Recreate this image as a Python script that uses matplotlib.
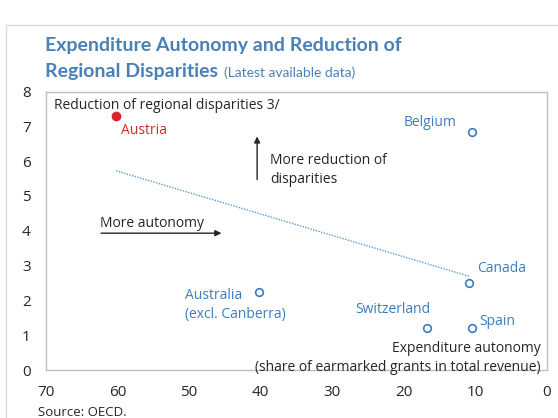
import numpy as np
import matplotlib.pyplot as plt
from matplotlib.lines import Line2D

# data
countries = ['Austria', 'Belgium', 'Canada', 'Australia\n(excl. Canberra)', 'Switzerland', 'Spain']
autonomy = [60.2, 10.5, 10.9, 40.2, 16.8, 10.5]      # share of earmarked grants in total revenue
disparity = [7.3, 6.85, 2.5, 2.25, 1.2, 1.2]          # reduction of regional disparities
xticks = [70, 60, 50, 40, 30, 20, 10, 0]
yticks = [0, 1, 2, 3, 4, 5, 6, 7, 8]

# label offsets (pixels) and alignment per country
offsets = [(5, -15), (-15, 9), (8, 14), (-74, 4), (4, 19), (7, 7)]
aligns = [('left', 'center'), ('right', 'center'), ('left', 'center'),
          ('left', 'top'), ('right', 'center'), ('left', 'center')]

blue = '#3A7DC0'
red = '#D9262E'
title_blue = '#4A80B8'
txt = '#262626'
body = 'Open Sans'

W, H = 558, 418
fig = plt.figure(figsize=(W / 100, H / 100), dpi=100)
ax = fig.add_axes([46 / W, 1 - 370 / H, 501 / W, 278.5 / H])

ax.set_xlim(70, 0)
ax.set_ylim(0, 8)
ax.set_xticks(xticks)
ax.set_yticks(yticks)
ax.tick_params(length=0, pad=11, labelsize=11, labelcolor=txt)
for lab in ax.get_xticklabels() + ax.get_yticklabels():
    lab.set_family(body)
for s in ax.spines.values():
    s.set_color('#BFBFBF')
    s.set_linewidth(1)

# trend line over the data
x = np.array(autonomy)
y = np.array(disparity)
k, b = np.polyfit(x, y, 1)
xs = np.array([x.max(), x.min() + 0.3])
ax.plot(xs, k * xs + b, linestyle=(0, (1, 1)), color='#5B9BD5', lw=1)

for i, c in enumerate(countries):
    col = red if c == 'Austria' else blue
    if c == 'Austria':
        ax.plot(x[i], y[i], 'o', color=red, ms=6)
    else:
        ax.plot(x[i], y[i], 'o', mfc='white', mec=blue, mew=1.2, ms=5.5)
    ax.annotate(c, (x[i], y[i]), xytext=offsets[i], textcoords='offset pixels',
                ha=aligns[i][0], va=aligns[i][1], color=col, fontsize=10,
                family=body, linespacing=1.35)

# direction arrows
ax.annotate('', xy=(40.5, 6.79), xytext=(40.5, 5.39),
            arrowprops=dict(arrowstyle='-|>', color=txt, lw=1, mutation_scale=9))
ax.text(38.7, 5.74, 'More reduction of\ndisparities', ha='left', va='center',
        fontsize=10, color=txt, family=body, linespacing=1.35)
ax.annotate('', xy=(45.1, 3.93), xytext=(62.7, 3.93),
            arrowprops=dict(arrowstyle='-|>', color=txt, lw=1, mutation_scale=9))
ax.text(62.5, 4.21, 'More autonomy', ha='left', va='center',
        fontsize=10, color=txt, family=body)

ax.text(0.016, 0.951, 'Reduction of regional disparities 3/', transform=ax.transAxes,
        ha='left', va='center', fontsize=10, color=txt, family=body)
ax.text(0.988, 0.043, 'Expenditure autonomy\n(share of earmarked grants in total revenue)',
        transform=ax.transAxes, ha='right', va='center', multialignment='right',
        fontsize=10, color=txt, family=body, linespacing=1.35)

# title
fig.text(45 / W, 1 - 45 / H, 'Expenditure Autonomy and Reduction of', ha='left', va='center',
         fontsize=14, fontweight='bold', color=title_blue, family='Lato')
t2 = fig.text(45 / W, 1 - 72 / H, 'Regional Disparities', ha='left', va='center',
              fontsize=14, fontweight='bold', color=title_blue, family='Lato')
fig.canvas.draw()
bb = t2.get_window_extent()
fig.text((bb.x1 + 6) / W, 1 - 73 / H, '(Latest available data)', ha='left', va='center',
         fontsize=10, color=title_blue, family='Lato')

fig.text(38 / W, 1 - 413 / H, 'Source: OECD.', ha='left', va='center',
         fontsize=9.5, color=txt, family=body)

# light outer frame
fig.add_artist(Line2D([6 / W, 1], [1 - 25 / H, 1 - 25 / H], color='#DDDDDD', lw=1))
fig.add_artist(Line2D([6 / W, 6 / W], [0, 1 - 25 / H], color='#DDDDDD', lw=1))

fig.savefig('out.png', dpi=100)
